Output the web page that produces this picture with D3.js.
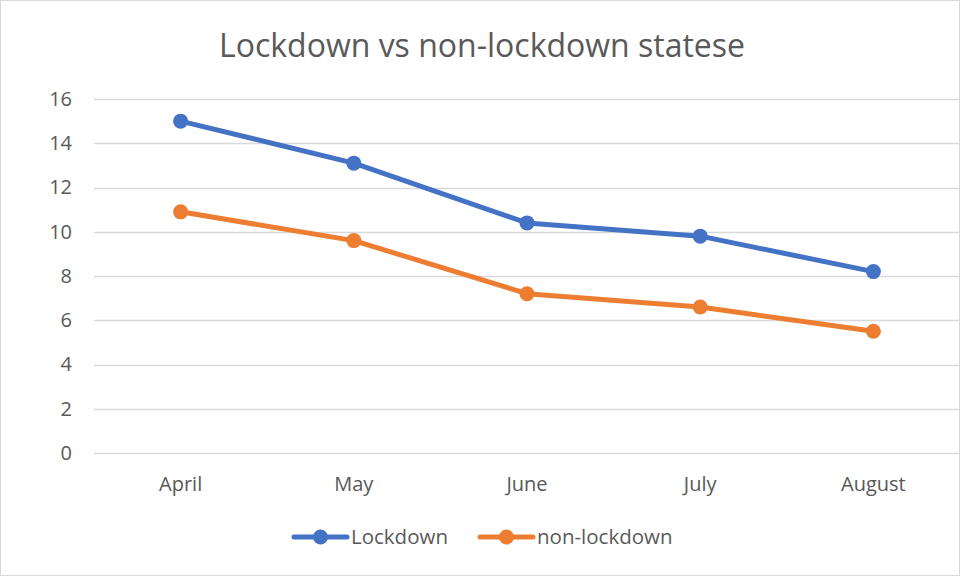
<!DOCTYPE html>
<html>
<head>
<meta charset="utf-8">
<script src="https://cdn.jsdelivr.net/npm/d3@7"></script>
<style>
  body { margin: 0; background: #fff; }
  text { font-family: "Open Sans", sans-serif; fill: #595959; }
</style>
</head>
<body>
<script>
// chart data
var months = ["April", "May", "June", "July", "August"];
var lockdown = [15, 13.1, 10.4, 9.8, 8.2];
var nonLockdown = [10.9, 9.6, 7.2, 6.6, 5.5];
var yTicks = [0, 2, 4, 6, 8, 10, 12, 14, 16];
var seriesNames = ["Lockdown", "non-lockdown"];
var colors = ["#4472C4", "#ED7D31"];

var W = 961, H = 577;
var margin = {top: 99, right: 1, bottom: 124, left: 94};
var width = W - margin.left - margin.right,
    height = H - margin.top - margin.bottom;

var svg = d3.select("body").append("svg")
    .attr("width", W)
    .attr("height", H);

// outer border
svg.append("rect")
    .attr("x", 0.5).attr("y", 0.5)
    .attr("width", W - 2).attr("height", H - 2)
    .attr("fill", "#fff")
    .attr("stroke", "#d9d9d9");

svg.append("text")
    .attr("x", 482).attr("y", 57)
    .attr("text-anchor", "middle")
    .style("font-size", "32px")
    .text("Lockdown vs non-lockdown statese");

var g = svg.append("g")
    .attr("transform", "translate(" + margin.left + "," + margin.top + ")");

var x = d3.scaleBand().domain(months).range([0, width]);
var y = d3.scaleLinear().domain([0, 16]).range([height, 0]);

// gridlines
g.selectAll(".grid")
    .data(yTicks)
    .enter().append("line")
    .attr("x1", 0).attr("x2", width)
    .attr("y1", function(d) { return Math.round(y(d)) + 0.5; })
    .attr("y2", function(d) { return Math.round(y(d)) + 0.5; })
    .attr("stroke", "#d9d9d9")
    .attr("stroke-width", 1.5);

// y labels
var yAxis = g.append("g").call(d3.axisLeft(y).tickValues(yTicks).tickSize(0).tickPadding(22));
yAxis.select(".domain").remove();
yAxis.selectAll("text").style("font-size", "20px").attr("fill", "#595959");

// x labels
var xAxis = g.append("g")
    .attr("transform", "translate(0," + height + ")")
    .call(d3.axisBottom(x).tickSize(0).tickPadding(24));
xAxis.select(".domain").remove();
xAxis.selectAll("text").style("font-size", "20px").attr("fill", "#595959");

var line = d3.line()
    .x(function(d, i) { return x(months[i]) + x.bandwidth() / 2; })
    .y(function(d) { return y(d); });

[lockdown, nonLockdown].forEach(function(vals, k) {
    g.append("path")
        .datum(vals)
        .attr("fill", "none")
        .attr("stroke", colors[k])
        .attr("stroke-width", 5)
        .attr("stroke-linejoin", "round")
        .attr("stroke-linecap", "round")
        .attr("d", line);
    g.selectAll(".dot" + k)
        .data(vals)
        .enter().append("circle")
        .attr("cx", function(d, i) { return x(months[i]) + x.bandwidth() / 2; })
        .attr("cy", function(d) { return y(d); })
        .attr("r", 7.5)
        .attr("fill", colors[k]);
});

// legend
var legendX = [294, 480];
var legend = svg.append("g").attr("transform", "translate(0,537)");
seriesNames.forEach(function(name, k) {
    var lg = legend.append("g").attr("transform", "translate(" + legendX[k] + ",0)");
    lg.append("line")
        .attr("x1", 0).attr("x2", 53)
        .attr("stroke", colors[k])
        .attr("stroke-width", 5)
        .attr("stroke-linecap", "round");
    lg.append("circle").attr("cx", 26.5).attr("r", 7.5).attr("fill", colors[k]);
    lg.append("text")
        .attr("x", 57).attr("dy", "0.35em")
        .style("font-size", "20.5px")
        .text(name);
});
</script>
</body>
</html>
